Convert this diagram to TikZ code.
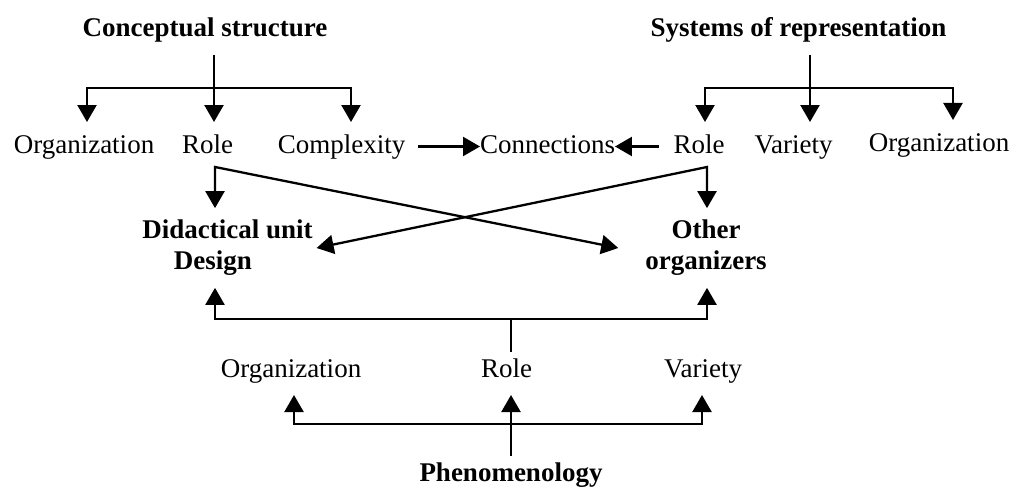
\documentclass[tikz,border=0pt]{standalone}
\usepackage{fontspec}
\setmainfont{Liberation Serif}
\usetikzlibrary{arrows.meta}
\newcommand{\lblfont}{\fontsize{27pt}{31pt}\selectfont}
\tikzstyle{lbl}=[inner sep=0pt, outer xsep=0pt, outer ysep=12pt, text height=19pt, text depth=6pt, anchor=base, font=\lblfont]
\tikzstyle{ttl}=[lbl, font=\lblfont\bfseries]
\tikzstyle{twoline}=[inner sep=0pt, outer xsep=0pt, outer ysep=12pt, align=center, font=\lblfont\bfseries]

\begin{document}
\begin{tikzpicture}[x=1pt, y=-1pt, line width=2.3pt, >={Triangle[width=19pt,length=17pt]}]
 \useasboundingbox (0,0) rectangle (1026,487);
 \node[ttl] (cs) at (205,37) {Conceptual structure};
 \node[ttl] (sr) at (798.5,37) {Systems of representation};
 \node[lbl] (orgL) at (84,153) {Organization};
 \node[lbl] (roleL) at (207.5,153) {Role};
 \node[lbl] (cpx) at (341.5,153) {Complexity};
 \node[lbl] (conn) at (547.5,153) {Connections};
 \node[lbl] (roleR) at (699,153) {Role};
 \node[lbl] (varR) at (793.5,153) {Variety};
 \node[lbl] (orgR) at (939,151) {Organization};
 \node[twoline] (du) at (227.5,248) {Didactical unit\\Design\hspace*{29pt}};
 \node[twoline] (oo) at (706,248) {Other\\organizers};
 \node[lbl] (orgB) at (291,377) {Organization};
 \node[lbl] (roleB) at (506.5,377) {Role};
 \node[lbl] (varB) at (703,377) {Variety};
 \node[ttl] (ph) at (511,481) {Phenomenology};
 \coordinate (csJ) at (214,88);
 \coordinate (srJ) at (810,88);
 \coordinate (rlJ) at (215,167);
 \coordinate (rrJ) at (707,167);
 \coordinate (mJ) at (511,319);
 \coordinate (phJ) at (511,424);
 \draw (cs.south -| csJ) -- (csJ);
 \draw[->] (csJ) -| ([xshift=3pt]orgL.north);
 \draw[->] (csJ) -- (csJ |- roleL.north);
 \draw[->] (csJ) -| ([xshift=9.5pt]cpx.north);
 \draw (sr.south -| srJ) -- (srJ);
 \draw[->] (srJ) -| ([xshift=6pt]roleR.north);
 \draw[->] (srJ) -- (srJ |- varR.north);
 \draw[->] (srJ) -| ([xshift=14pt]orgR.north);
 \draw[->, shorten <=13pt] (cpx.east) -- (conn.west);
 \draw[->, shorten <=15pt] (roleR.west) -- (conn.east);
 \draw[<->] (rlJ |- du.north) -- (rlJ) -- ([xshift=-27pt]oo.west);
 \draw[<->] ([xshift=4pt]du.east) -- (rrJ) -- (rrJ |- oo.north);
 \draw[<->] (rlJ |- du.south) -- (rlJ |- mJ) -- (rrJ |- mJ) -- (rrJ |- oo.south);
 \draw (mJ) -- ([yshift=-6pt]mJ |- roleB.north);
 \draw[<->] ([xshift=3pt]orgB.south) |- (phJ) -| ([xshift=-1pt]varB.south);
 \draw[->] ([yshift=-6pt]ph.north -| phJ) -- (phJ |- roleB.south);
\end{tikzpicture}
\end{document}
